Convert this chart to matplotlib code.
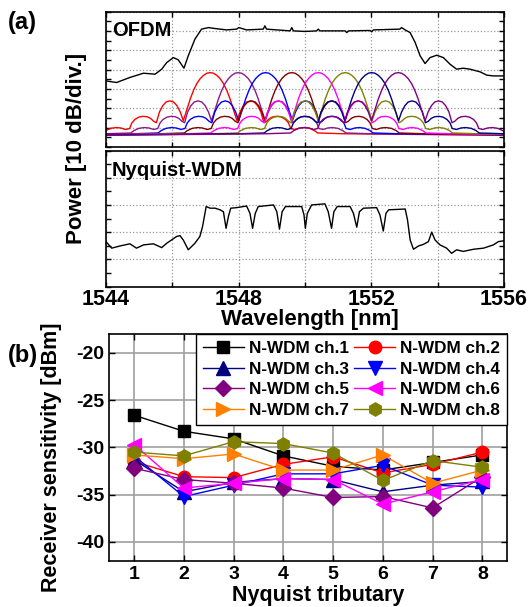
import numpy as np
import matplotlib
matplotlib.use("Agg")
import matplotlib.pyplot as plt
from matplotlib.ticker import MultipleLocator

plt.rcParams['font.family'] = ['Liberation Sans', 'DejaVu Sans']
plt.rcParams['font.weight'] = 'bold'
plt.rcParams['axes.unicode_minus'] = False

# ---- (a) OFDM: aggregate spectrum (wavelength nm, level dB above axis bottom)
ofdm_wl = [1544.00, 1544.32, 1544.72, 1545.13, 1545.48, 1545.68, 1545.83, 1546.03,
           1546.18, 1546.35, 1546.48, 1546.68, 1546.88, 1547.09, 1547.29, 1547.64,
           1547.94, 1548.00, 1548.24, 1548.74, 1548.79, 1548.84, 1549.55, 1549.60,
           1549.65, 1550.00, 1550.35, 1550.40, 1550.45, 1551.21, 1551.26, 1551.31,
           1551.96, 1552.01, 1552.06, 1552.86, 1552.91, 1553.02, 1553.17, 1553.32,
           1553.47, 1553.62, 1553.77, 1553.97, 1554.17, 1554.37, 1554.57, 1554.77,
           1554.97, 1555.28, 1555.48, 1555.68, 1555.98]
ofdm_db = [34.1, 33.3, 35.9, 38.1, 37.6, 40.2, 43.6, 46.2,
           45.0, 40.7, 47.1, 55.7, 60.9, 61.7, 61.2, 60.5,
           60.9, 61.7, 60.5, 60.9, 62.6, 60.9, 60.0, 61.7,
           60.0, 59.7, 60.0, 60.9, 60.0, 60.0, 59.1, 60.0,
           60.2, 59.5, 60.5, 60.9, 61.7, 60.5, 59.1, 54.0,
           47.1, 43.1, 46.2, 47.4, 46.2, 42.8, 40.2, 40.7,
           40.2, 38.8, 37.1, 36.7, 36.7]

# single subcarrier spectrum (offset from centre in nm, dB)
lobe_off = [-12.0, -4.0, -3.24, -3.15, -3.0, -2.84, -2.7, -2.55, -2.43, -2.36, -2.27,
            -2.15, -2.03, -1.9, -1.8, -1.7, -1.62, -1.53, -1.43, -1.33, -1.215, -1.1,
            -1.0, -0.9, -0.81, -0.7, -0.6, -0.5, -0.4, -0.3, -0.2, -0.1, 0.0,
            0.1, 0.2, 0.3, 0.4, 0.5, 0.6, 0.7, 0.81, 0.9, 1.0, 1.1, 1.215, 1.33,
            1.43, 1.53, 1.62, 1.7, 1.8, 1.9, 2.03, 2.15, 2.27, 2.36, 2.43, 2.55,
            2.7, 2.84, 3.0, 3.15, 3.24, 4.0, 12.0]
lobe_db = [5.5, 6.8, 7.2, 8.4, 9.6, 10.0, 9.8, 9.0, 9.5, 12.4, 14.2,
           15.4, 15.8, 15.6, 14.8, 13.2, 12.5, 18.0, 21.3, 23.2, 23.8, 23.2,
           21.3, 18.0, 13.5, 19.3, 24.8, 29.3, 32.8, 35.3, 37.0, 38.1, 38.4,
           38.1, 37.0, 35.3, 32.8, 29.3, 24.8, 19.3, 13.5, 18.0, 21.3, 23.2, 23.8, 23.2,
           21.3, 18.0, 12.5, 13.2, 14.8, 15.6, 15.8, 15.4, 14.2, 12.4, 9.5, 9.0,
           9.8, 10.0, 9.6, 8.4, 7.2, 6.8, 5.5]
sub_centers = [1547.14, 1547.99, 1548.81, 1549.60, 1550.40, 1551.21, 1552.01, 1552.81]
sub_colors = ['#ff0000', '#8b1a8b', '#0000ff', '#800000', '#ff00ff', '#808000', '#000080', '#800080']

# ---- (a) Nyquist-WDM spectrum
nyq_wl = [1544.00, 1544.17, 1544.42, 1544.72, 1544.92, 1545.13, 1545.43, 1545.68,
          1545.83, 1546.13, 1546.23, 1546.33, 1546.48, 1546.68, 1546.83, 1546.91,
          1547.02, 1547.14, 1547.29, 1547.44, 1547.54, 1547.62, 1547.69, 1547.76,
          1547.94, 1548.24, 1548.34, 1548.42, 1548.50, 1548.59, 1549.05, 1549.15,
          1549.23, 1549.31, 1549.41, 1549.90, 1549.97, 1550.01, 1550.07, 1550.20,
          1550.60, 1550.70, 1550.80, 1550.87, 1550.97, 1551.36, 1551.46, 1551.56,
          1551.64, 1551.76, 1552.16, 1552.26, 1552.36, 1552.44, 1552.52, 1552.86,
          1553.02, 1553.09, 1553.17, 1553.27, 1553.42, 1553.57, 1553.72, 1553.82,
          1553.92, 1554.07, 1554.27, 1554.42, 1554.57, 1554.77, 1555.08, 1555.38,
          1555.68, 1555.83, 1555.98]
nyq_db = [16.5, 14.1, 14.9, 15.7, 14.1, 15.3, 15.7, 14.3,
          15.9, 18.4, 18.7, 17.1, 13.5, 15.9, 18.4, 22.0,
          29.4, 28.8, 28.8, 28.2, 27.5, 21.4, 25.7, 28.8,
          29.0, 29.6, 26.9, 21.4, 26.9, 29.4, 30.0, 27.5,
          21.1, 27.5, 29.4, 29.4, 26.3, 21.4, 26.9, 30.0,
          30.4, 27.5, 21.4, 27.5, 29.4, 29.4, 26.9, 21.8,
          27.5, 28.8, 29.0, 26.3, 20.4, 26.9, 28.2, 28.4,
          28.5, 24.5, 17.1, 13.7, 14.9, 15.5, 16.5, 20.0,
          17.1, 15.3, 14.1, 12.2, 13.5, 12.9, 13.7, 14.1,
          15.3, 16.5, 16.8]

# ---- (b) receiver sensitivity per Nyquist tributary
tributary = [1, 2, 3, 4, 5, 6, 7, 8]
ch1 = [-26.6, -28.3, -29.1, -30.9, -32.0, -32.4, -31.6, -30.8]
ch2 = [-31.5, -33.1, -33.2, -31.8, -31.0, -32.7, -31.8, -30.5]
ch3 = [-31.3, -34.7, -33.7, -33.3, -33.4, -34.7, -34.0, -33.6]
ch4 = [-30.9, -35.2, -34.0, -32.8, -32.8, -31.9, -34.0, -34.2]
ch5 = [-32.2, -33.4, -33.8, -34.3, -35.3, -35.2, -36.4, -33.1]
ch6 = [-29.7, -34.3, -33.8, -33.3, -33.4, -36.0, -34.7, -33.4]
ch7 = [-30.8, -31.2, -30.7, -32.4, -32.4, -30.8, -33.8, -32.4]
ch8 = [-30.5, -30.9, -29.4, -29.6, -30.6, -33.5, -31.4, -32.1]
series = [ch1, ch2, ch3, ch4, ch5, ch6, ch7, ch8]
names = ['N-WDM ch.%d' % i for i in range(1, 9)]
colors = ['black', '#ff0000', '#000080', '#0000ff', '#800080', '#ff00ff', '#ff8000', '#808000']
markers = ['s', 'o', '^', 'v', 'D', '<', '>', 'h']
msizes = [8, 9, 9.5, 9.5, 8, 10, 10, 9.5]

fig = plt.figure(figsize=(5.3, 6.07), dpi=100)
ax1 = fig.add_axes([0.200, 0.758, 0.751, 0.223])
ax2 = fig.add_axes([0.200, 0.528, 0.751, 0.224])
ax3 = fig.add_axes([0.206, 0.076, 0.751, 0.374])

for c, col in zip(sub_centers, sub_colors):
    ax1.plot(np.array(lobe_off) + c, lobe_db, color=col, lw=1.0)
ax1.plot(ofdm_wl, ofdm_db, color='black', lw=1.0)
ax2.plot(nyq_wl, nyq_db, color='black', lw=1.0)

for ax, top, lab, ty in [(ax1, 70, 'OFDM', 0.93), (ax2, 50, 'Nyquist-WDM', 0.92)]:
    ax.set_xlim(1544, 1556)
    ax.set_ylim(0, top)
    ax.xaxis.set_major_locator(MultipleLocator(2))
    ax.yaxis.set_major_locator(MultipleLocator(10))
    ax.yaxis.set_minor_locator(MultipleLocator(5))
    ax.grid(True, which='major', color='#999999', ls=':', lw=0.9)
    ax.tick_params(direction='in', top=True, right=True, which='both', length=3.5, width=1)
    ax.set_yticklabels([])
    for s in ax.spines.values():
        s.set_linewidth(1.2)
    ax.text(0.015, ty, lab, transform=ax.transAxes, fontsize=14.5, fontweight='bold',
            va='top', ha='left')

ax1.set_xticklabels([])
ax2.set_xticks([1544, 1546, 1548, 1550, 1552, 1554, 1556])
ax2.set_xticklabels(['1544', '', '1548', '', '1552', '', '1556'], fontsize=15.5, fontweight='bold')
ax2.tick_params(axis='x', pad=2)
fig.text(0.584, 0.474, 'Wavelength [nm]', ha='center', va='center', fontsize=16, fontweight='bold')
fig.text(0.145, 0.756, 'Power [10 dB/div.]', ha='center', va='center', rotation=90,
         fontsize=16, fontweight='bold')
fig.text(0.015, 0.982, '(a)', ha='left', va='top', fontsize=17, fontweight='bold')
fig.text(0.015, 0.433, '(b)', ha='left', va='top', fontsize=17, fontweight='bold')

handles = []
for y, nm, col, mk, ms in zip(series, names, colors, markers, msizes):
    h, = ax3.plot(tributary, y, color=col, marker=mk, ms=ms, lw=1.0, label=nm)
    handles.append(h)

ax3.set_xlim(0.5, 8.5)
ax3.set_ylim(-42, -18)
ax3.set_xticks(tributary)
ax3.set_yticks([-40, -35, -30, -25, -20])
ax3.grid(True, color='#a0a0a0', lw=1.2)
ax3.set_axisbelow(True)
ax3.tick_params(direction='in', top=True, right=True, length=4, width=1, labelsize=14)
for lbl in ax3.get_xticklabels() + ax3.get_yticklabels():
    lbl.set_fontweight('bold')
for s in ax3.spines.values():
    s.set_linewidth(1.2)
fig.text(0.6, 0.019, 'Nyquist tributary', ha='center', va='center', fontsize=15.5, fontweight='bold')
fig.text(0.098, 0.247, 'Receiver sensitivity [dBm]', ha='center', va='center', rotation=90,
         fontsize=15.5, fontweight='bold')

order = [0, 2, 4, 6, 1, 3, 5, 7]
leg = ax3.legend([handles[i] for i in order], [names[i] for i in order], ncol=2,
                 loc='upper right', borderaxespad=0, fancybox=False, edgecolor='black',
                 framealpha=1, prop={'weight': 'bold', 'size': 12.3},
                 handlelength=2.4, columnspacing=0.3, handletextpad=0.3,
                 labelspacing=0.33, borderpad=0.42)
leg.get_frame().set_linewidth(1.0)

fig.savefig('out.png', dpi=100)
